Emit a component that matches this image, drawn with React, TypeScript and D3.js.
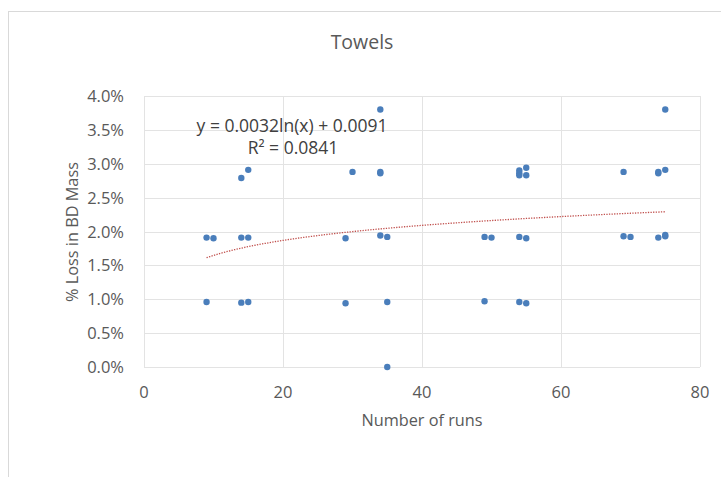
import * as d3 from 'd3';
import React from 'react';

// runs (x) and % loss in BD mass (y, as fraction)
const runs = [
  9, 9, 10,
  14, 14, 14,
  15, 15, 15,
  29, 29, 30,
  34, 34, 34, 34,
  35, 35, 35,
  49, 49, 50,
  54, 54, 54, 54, 54,
  55, 55, 55, 55,
  69, 69, 70,
  74, 74, 74,
  75, 75, 75, 75,
];
const loss = [
  0.0191, 0.0096, 0.0190,
  0.0279, 0.0191, 0.0095,
  0.0291, 0.0191, 0.0096,
  0.0190, 0.0094, 0.0288,
  0.0380, 0.0288, 0.0286, 0.0194,
  0.0192, 0.0096, 0.0000,
  0.0192, 0.0097, 0.0191,
  0.0290, 0.0286, 0.0283, 0.0192, 0.0096,
  0.0294, 0.0283, 0.0190, 0.0094,
  0.0288, 0.0193, 0.0192,
  0.0286, 0.0288, 0.0191,
  0.0380, 0.0291, 0.0193, 0.0195,
];

const xTicks = [0, 20, 40, 60, 80];
const yTicks = [0, 0.005, 0.01, 0.015, 0.02, 0.025, 0.03, 0.035, 0.04];

// trendline coefficients as shown on the chart
const trendA = 0.0032;
const trendB = 0.0091;
const trendLabel = 'y = 0.0032ln(x) + 0.0091';
const r2Label = 'R² = 0.0841';

const W = 721;
const H = 477;
const font = '"Open Sans", "Liberation Sans", sans-serif';

export default function App() {
  const x = d3.scaleLinear().domain([0, 80]).range([144, 700]);
  const y = d3.scaleLinear().domain([0, 0.04]).range([367, 96]);

  const xMin = d3.min(runs) as number;
  const xMax = d3.max(runs) as number;
  const trendPts = d3.range(xMin, xMax + 0.01, 0.5).map(v => [v, trendA * Math.log(v) + trendB]);
  const line = d3.line<number[]>().x(d => x(d[0])).y(d => y(d[1]));

  const pct = d3.format('.1%');

  return (
    <div style={{ position: 'absolute', left: 0, top: 0 }}>
      <svg width={W} height={H} style={{ display: 'block', background: '#fff' }}>
        <rect x={8.5} y={11.5} width={W + 10} height={H + 10} fill="#fff" stroke="#d9d9d9" />
        <text x={362} y={49} textAnchor="middle" fontFamily={font} fontSize={19.5} fill="#595959">Towels</text>

        {yTicks.map(t => (
          <g key={'y' + t}>
            <line x1={x(0)} x2={x(80)} y1={Math.round(y(t)) + 0.5} y2={Math.round(y(t)) + 0.5} stroke="#e3e3e3" />
            <text x={124} y={y(t) + 6} textAnchor="end" fontFamily={font} fontSize={16.5} fill="#595959">{pct(t)}</text>
          </g>
        ))}
        {xTicks.map(t => (
          <g key={'x' + t}>
            <line x1={Math.round(x(t)) + 0.5} x2={Math.round(x(t)) + 0.5} y1={y(0.04)} y2={y(0)} stroke="#e3e3e3" />
            <text x={x(t)} y={398} textAnchor="middle" fontFamily={font} fontSize={16.5} fill="#595959">{t}</text>
          </g>
        ))}

        {runs.map((r, i) => (
          <circle key={i} cx={x(r)} cy={y(loss[i])} r={3.2} fill="#4a7ebb" />
        ))}

        <path d={line(trendPts) || ''} fill="none" stroke="#c0504d" strokeWidth={1.3} strokeDasharray="1.3 1.3" />

        <text x={292} y={132} textAnchor="middle" fontFamily={font} fontSize={17.5} fill="#404040">{trendLabel}</text>
        <text x={293} y={154} textAnchor="middle" fontFamily={font} fontSize={17.5} fill="#404040">{r2Label}</text>

        <text x={422} y={426} textAnchor="middle" fontFamily={font} fontSize={16.3} fill="#595959">Number of runs</text>
        <text transform="translate(78,232) rotate(-90)" textAnchor="middle" fontFamily={font} fontSize={16.3} fill="#595959">% Loss in BD Mass</text>
      </svg>
    </div>
  );
}
